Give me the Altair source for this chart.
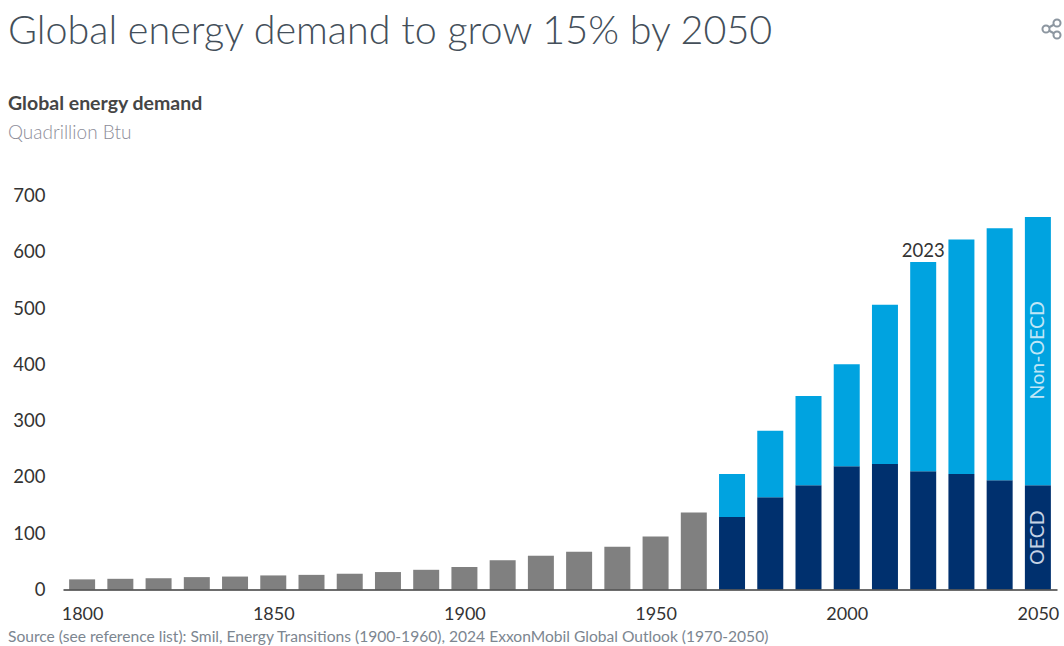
import altair as alt
import pandas as pd

FONT = "Lato"

hist_years = list(range(1800, 1970, 10))
hist_values = [18, 19, 20, 22, 23, 25, 26, 28, 31, 35, 40, 52, 60, 67, 76, 94, 137]

out_years = list(range(1970, 2060, 10))
oecd = [129, 164, 185, 219, 223, 210, 205, 194, 185]
total = [205, 282, 344, 400, 506, 582, 622, 642, 662]
non_oecd = [t - o for t, o in zip(total, oecd)]

groups = ["Historical", "OECD", "Non-OECD"]
group_colors = ["#808080", "#00306e", "#00a3e0"]

rows = (
    [{"year": y, "group": "Historical", "rank": 0, "value": v} for y, v in zip(hist_years, hist_values)]
    + [{"year": y, "group": "OECD", "rank": 1, "value": v} for y, v in zip(out_years, oecd)]
    + [{"year": y, "group": "Non-OECD", "rank": 2, "value": v} for y, v in zip(out_years, non_oecd)]
)
df = pd.DataFrame(rows)

x_scale = alt.Scale(domain=[1795, 2055], nice=False, zero=False, padding=0)
y_scale = alt.Scale(domain=[0, 700], nice=False)

bars = (
    alt.Chart(df)
    .mark_bar(size=26)
    .encode(
        x=alt.X(
            "year:Q",
            scale=x_scale,
            title=None,
            axis=alt.Axis(
                values=[1800, 1850, 1900, 1950, 2000, 2050],
                format="d",
                grid=False,
                ticks=False,
                domainColor="#3c3c3c",
                domainWidth=1.5,
                labelFont=FONT,
                labelFontSize=18,
                labelColor="#333333",
                labelPadding=16,
                labelFlush=False,
                labelOverlap=False,
                zindex=1,
            ),
        ),
        y=alt.Y(
            "value:Q",
            stack="zero",
            scale=y_scale,
            title=None,
            axis=alt.Axis(
                values=[0, 100, 200, 300, 400, 500, 600, 700],
                grid=False,
                ticks=False,
                domain=False,
                labelFont=FONT,
                labelFontSize=18.5,
                labelColor="#333333",
                labelPadding=18,
            ),
        ),
        color=alt.Color("group:N", scale=alt.Scale(domain=groups, range=group_colors), legend=None),
        order=alt.Order("rank:Q"),
    )
)


def note(text, x, y, size, color, weight=400, align="left"):
    """Free-standing text placed in pixels relative to the plot area."""
    return (
        alt.Chart(pd.DataFrame({"t": [text]}))
        .mark_text(
            font=FONT, fontSize=size, color=color, fontWeight=weight,
            align=align, baseline="middle", clip=False,
        )
        .encode(text="t:N", x=alt.value(x), y=alt.value(y))
    )


def bar_label(text, year, value, color, size=18, angle=0, baseline="middle", dy=0):
    return (
        alt.Chart(pd.DataFrame({"t": [text], "year": [year], "value": [value]}))
        .mark_text(
            font=FONT, fontSize=size, color=color, angle=angle,
            align="center", baseline=baseline, dy=dy,
        )
        .encode(
            text="t:N",
            x=alt.X("year:Q", scale=x_scale),
            y=alt.Y("value:Q", scale=y_scale),
        )
    )


LEFT, TOP = 63, 195.5

title = note("Global energy demand to grow 15% by 2050", 8 - LEFT, 32 - TOP, 39.5, "#444f5a", weight=300)
heading = note("Global energy demand", 8 - LEFT, 104 - TOP, 19.5, "#454545", weight=700)
units = note("Quadrillion Btu", 8 - LEFT, 133 - TOP, 19, "#8d8d99", weight=300)
source = note(
    "Source (see reference list): Smil, Energy Transitions (1900-1960), 2024 ExxonMobil Global Outlook (1970-2050)",
    8 - LEFT, 637 - TOP, 15.6, "#7c8690",
)

year_mark = bar_label("2023", 2020, 582, "#333333", size=18.5, baseline="bottom", dy=-1)
non_oecd_label = bar_label("Non-OECD", 2050, 425, "#bfe6f7", size=19.5, angle=270)
oecd_label = bar_label("OECD", 2050, 92, "#c5d3e4", size=19.5, angle=270)

# Share glyph in the top right corner: three hollow nodes joined by two links.
share_px = pd.DataFrame({"x": [1046 - LEFT, 1057 - LEFT, 1057 - LEFT], "y": [29 - TOP, 23 - TOP, 35 - TOP]})
share_links = [
    alt.Chart(pd.DataFrame({"a": [0]}))
    .mark_rule(color="#8c96a0", strokeWidth=2, clip=False)
    .encode(
        x=alt.value(1046 - LEFT),
        x2=alt.value(1057 - LEFT),
        y=alt.value(29 - TOP),
        y2=alt.value(yy - TOP),
    )
    for yy in (23, 35)
]
share_nodes = [
    alt.Chart(pd.DataFrame({"a": [0]}))
    .mark_point(shape="circle", size=50, filled=True, fill="white", stroke="#8c96a0", strokeWidth=2, opacity=1, clip=False)
    .encode(x=alt.value(px), y=alt.value(py))
    for px, py in zip(share_px["x"], share_px["y"])
]

chart = (
    alt.layer(
        bars, title, heading, units, source, year_mark, non_oecd_label, oecd_label,
        *share_links, *share_nodes,
    )
    .properties(
        width=994,
        height=394,
        padding={"left": LEFT, "top": TOP, "right": 7, "bottom": 56.5},
        autosize=alt.AutoSizeParams(type="none"),
        background="white",
    )
    .configure_view(stroke=None)
)

chart.save("out.html", embed_options={"renderer": "svg", "actions": False})
